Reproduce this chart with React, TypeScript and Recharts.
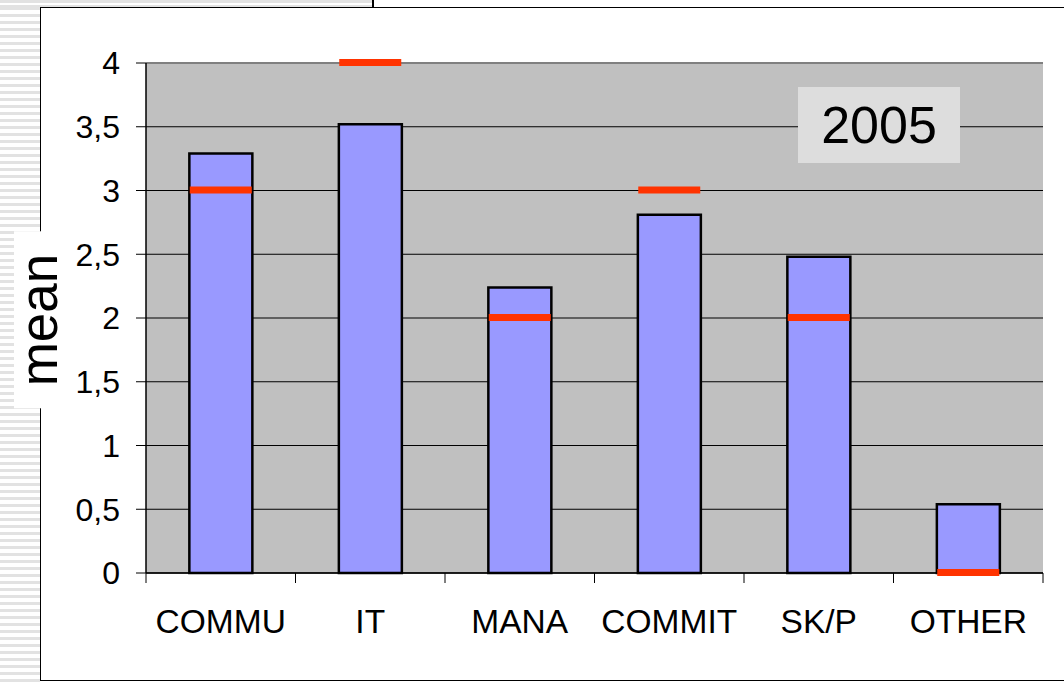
import React from 'react';
import { ComposedChart, Bar, Scatter, XAxis, YAxis, CartesianGrid, ReferenceLine } from 'recharts';

const categories = ['COMMU', 'IT', 'MANA', 'COMMIT', 'SK/P', 'OTHER'];
const means = [3.29, 3.52, 2.24, 2.81, 2.48, 0.54];
const targets = [3, 4, 2, 3, 2, 0];
const yTicks = [0, 0.5, 1, 1.5, 2, 2.5, 3, 3.5, 4];

const data = categories.map((name, i) => ({ name, mean: means[i], target: targets[i] }));

const FONT = '"Liberation Sans", Arial, sans-serif';
const X_TICK_SIZE = 10;
const X_TICK_MARGIN = 26;

// category label plus a tick mark on the band boundaries (Excel style)
const CategoryTick = (props: any) => {
    const { x, y, payload, index, visibleTicksCount } = props;
    const half = payload.offset || 0;
    const lineTop = y - X_TICK_MARGIN - X_TICK_SIZE;
    const lineBottom = y - X_TICK_MARGIN;
    const isLast = index === (visibleTicksCount ?? categories.length) - 1;
    return (
        <g>
            <line x1={x - half} x2={x - half} y1={lineTop} y2={lineBottom} stroke="#000" strokeWidth={1} />
            {isLast && (
                <line x1={x + half} x2={x + half} y1={lineTop} y2={lineBottom} stroke="#000" strokeWidth={1} />
            )}
            <text x={x} y={y} dy="0.71em" textAnchor="middle" fontSize={33.5} fill="#000" fontFamily={FONT}>
                {payload.value}
            </text>
        </g>
    );
};

// red horizontal marker for the target value
const TargetMark = (props: any) => {
    const { cx, cy } = props;
    if (cx == null || cy == null) return null;
    return <rect x={cx - 31} y={cy - 4} width={62} height={7} fill="#ff3300" />;
};

const App: React.FC = () => {
    return (
        <div style={{ position: 'absolute', left: 0, top: 0, width: 1064, height: 682, background: '#fff', overflow: 'hidden', fontFamily: FONT }}>
            {/* slide decoration */}
            <div style={{
                position: 'absolute', left: 0, top: 0, width: 40, height: 682,
                background: 'repeating-linear-gradient(to bottom, #e2e2e2 0px, #e2e2e2 3px, #ffffff 3px, #ffffff 7px)'
            }} />
            <div style={{
                position: 'absolute', left: 0, top: 0, width: 372, height: 7,
                background: 'repeating-linear-gradient(to bottom, #e2e2e2 0px, #e2e2e2 3px, #ffffff 3px, #ffffff 5px)'
            }} />
            <div style={{ position: 'absolute', left: 372, top: 0, width: 1.5, height: 7, background: '#000' }} />
            <div style={{
                position: 'absolute', left: 40, top: 7, width: 1100, height: 672,
                border: '1.5px solid #000', background: '#fff'
            }} />

            <div style={{ position: 'absolute', left: 0, top: 0 }}>
                <ComposedChart
                    width={1064}
                    height={682}
                    data={data}
                    margin={{ top: 63, right: 21, left: 90, bottom: 49 }}
                    barCategoryGap="29%"
                >
                    <CartesianGrid horizontal vertical={false} stroke="#000" strokeWidth={1} fill="#c0c0c0" />
                    <XAxis
                        dataKey="name"
                        interval={0}
                        height={60}
                        axisLine={{ stroke: '#000', strokeWidth: 1.5 }}
                        tickLine={false}
                        tickSize={X_TICK_SIZE}
                        tickMargin={X_TICK_MARGIN}
                        tick={<CategoryTick />}
                    />
                    <XAxis xAxisId="frame" type="number" domain={[0, 6]} hide />
                    <YAxis
                        domain={[0, 4]}
                        ticks={yTicks}
                        width={56}
                        axisLine={{ stroke: '#000', strokeWidth: 1.5 }}
                        tickLine={{ stroke: '#000' }}
                        tickSize={10}
                        tickMargin={16}
                        tick={{ fontSize: 32, fill: '#000', fontFamily: FONT }}
                        tickFormatter={(v: number) => String(v).replace('.', ',')}
                    />
                    <ReferenceLine y={4} stroke="#808080" strokeWidth={2} />
                    <ReferenceLine xAxisId="frame" x={6} stroke="#808080" strokeWidth={3} />
                    <Bar dataKey="mean" fill="#9999ff" stroke="#000" strokeWidth={2.5} isAnimationActive={false} />
                    <Scatter dataKey="target" shape={<TargetMark />} isAnimationActive={false} />
                </ComposedChart>
            </div>

            {/* year label */}
            <div style={{
                position: 'absolute', left: 798, top: 87, width: 162, height: 76,
                background: '#dddddd', display: 'flex', alignItems: 'center', justifyContent: 'center',
                fontSize: 52, color: '#000'
            }}>
                2005
            </div>

            {/* y axis title */}
            <div style={{
                position: 'absolute', left: 39, top: 320, transform: 'translate(-50%, -50%) rotate(-90deg)',
                background: '#fff', fontSize: 53, lineHeight: '50px', padding: '0 22px', color: '#000', whiteSpace: 'nowrap'
            }}>
                mean
            </div>
        </div>
    );
};

export default App;
